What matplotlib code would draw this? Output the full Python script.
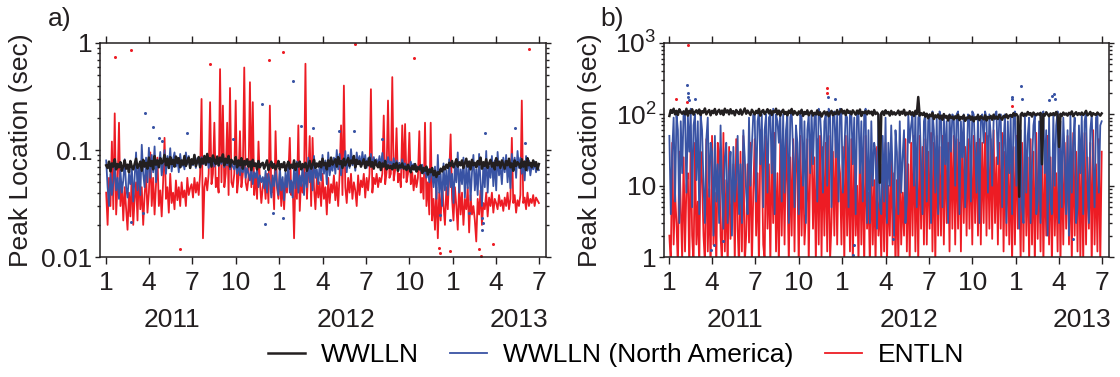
import numpy as np
import pandas as pd
import matplotlib
matplotlib.use('Agg')
import matplotlib.pyplot as plt
import matplotlib.dates as mdates
import matplotlib.transforms as mtransforms
from matplotlib.ticker import FixedLocator, FixedFormatter, LogLocator, NullFormatter, FuncFormatter

plt.rcParams['font.family'] = ['Liberation Sans', 'DejaVu Sans']
plt.rcParams['mathtext.fontset'] = 'custom'
plt.rcParams['mathtext.rm'] = 'Liberation Sans'
plt.rcParams['mathtext.it'] = 'Liberation Sans:italic'

BLACK = '#231f20'
BLUE = '#3953a4'
RED = '#ed1c24'
FS = 19

# daily series sampled every 3 days from 2011-01-01 (one row ~ one month)
start = '2011-01-01'

# ---- panel a) ----
wwlln_a = [
    0.072, 0.068, 0.078, 0.063, 0.075, 0.070, 0.082, 0.066, 0.074, 0.069,
    0.077, 0.064, 0.071, 0.080, 0.067, 0.073, 0.062, 0.079, 0.070, 0.066,
    0.074, 0.083, 0.068, 0.072, 0.078, 0.064, 0.081, 0.070, 0.076, 0.067,
    0.085, 0.071, 0.079, 0.066, 0.088, 0.073, 0.080, 0.069, 0.084, 0.075,
    0.078, 0.090, 0.072, 0.083, 0.068, 0.086, 0.074, 0.081, 0.070, 0.087,
    0.076, 0.084, 0.069, 0.080, 0.073, 0.088, 0.071, 0.079, 0.085, 0.068,
    0.082, 0.074, 0.090, 0.071, 0.078, 0.086, 0.069, 0.083, 0.075, 0.088,
    0.073, 0.092, 0.077, 0.084, 0.070, 0.089, 0.080, 0.074, 0.087, 0.072,
    0.085, 0.078, 0.091, 0.072, 0.083, 0.076, 0.088, 0.070, 0.081, 0.077,
    0.074, 0.086, 0.069, 0.080, 0.072, 0.084, 0.067, 0.079, 0.073, 0.082,
    0.070, 0.078, 0.065, 0.081, 0.071, 0.075, 0.066, 0.079, 0.069, 0.074,
    0.076, 0.067, 0.073, 0.080, 0.065, 0.072, 0.078, 0.068, 0.074, 0.066,
    0.071, 0.079, 0.066, 0.074, 0.069, 0.077, 0.064, 0.072, 0.078, 0.067,
    0.073, 0.068, 0.080, 0.065, 0.075, 0.070, 0.078, 0.066, 0.074, 0.069,
    0.076, 0.064, 0.071, 0.079, 0.067, 0.073, 0.081, 0.068, 0.075, 0.070,
    0.078, 0.069, 0.083, 0.072, 0.076, 0.066, 0.080, 0.071, 0.085, 0.073,
    0.077, 0.082, 0.070, 0.086, 0.074, 0.079, 0.068, 0.083, 0.072, 0.078,
    0.084, 0.071, 0.080, 0.075, 0.088, 0.069, 0.081, 0.074, 0.079, 0.070,
    0.076, 0.082, 0.068, 0.078, 0.072, 0.085, 0.070, 0.077, 0.067, 0.080,
    0.073, 0.069, 0.077, 0.065, 0.075, 0.070, 0.079, 0.066, 0.072, 0.068,
    0.071, 0.066, 0.074, 0.068, 0.076, 0.064, 0.072, 0.069, 0.075, 0.067,
    0.070, 0.065, 0.073, 0.068, 0.062, 0.071, 0.066, 0.074, 0.063, 0.069,
    0.066, 0.072, 0.061, 0.068, 0.064, 0.070, 0.059, 0.066, 0.062, 0.068,
    0.058, 0.064, 0.056, 0.062, 0.060, 0.067, 0.063, 0.070, 0.066, 0.073,
    0.068, 0.076, 0.071, 0.079, 0.069, 0.074, 0.082, 0.070, 0.077, 0.072,
    0.080, 0.068, 0.075, 0.083, 0.070, 0.078, 0.066, 0.081, 0.072, 0.076,
    0.069, 0.079, 0.073, 0.085, 0.067, 0.077, 0.071, 0.082, 0.068, 0.075,
    0.081, 0.070, 0.076, 0.066, 0.084, 0.072, 0.078, 0.068, 0.080, 0.073,
    0.067, 0.079, 0.072, 0.083, 0.069, 0.075, 0.064, 0.080, 0.071, 0.077,
    0.074, 0.068, 0.082, 0.070, 0.078, 0.065, 0.084, 0.072, 0.076, 0.069,
    0.080, 0.071, 0.077, 0.066, 0.074,
]

na_a = [
    0.080, 0.045, 0.030, 0.060, 0.038, 0.050, 0.072, 0.042, 0.055, 0.035,
    0.065, 0.040, 0.052, 0.082, 0.045, 0.036, 0.060, 0.048, 0.070, 0.033,
    0.055, 0.095, 0.042, 0.070, 0.038, 0.112, 0.060, 0.045, 0.085, 0.050,
    0.105, 0.055, 0.090, 0.062, 0.108, 0.050, 0.080, 0.072, 0.096, 0.058,
    0.075, 0.100, 0.060, 0.088, 0.068, 0.104, 0.063, 0.082, 0.095, 0.070,
    0.085, 0.062, 0.092, 0.070, 0.078, 0.066, 0.095, 0.074, 0.088, 0.068,
    0.080, 0.072, 0.090, 0.068, 0.084, 0.076, 0.070, 0.086, 0.074, 0.082,
    0.072, 0.085, 0.068, 0.080, 0.074, 0.088, 0.070, 0.078, 0.083, 0.071,
    0.080, 0.074, 0.088, 0.069, 0.078, 0.072, 0.084, 0.066, 0.076, 0.070,
    0.066, 0.080, 0.060, 0.074, 0.058, 0.070, 0.062, 0.076, 0.055, 0.068,
    0.060, 0.052, 0.070, 0.048, 0.062, 0.055, 0.066, 0.045, 0.058, 0.050,
    0.056, 0.044, 0.064, 0.040, 0.060, 0.050, 0.036, 0.058, 0.046, 0.065,
    0.048, 0.038, 0.070, 0.042, 0.056, 0.034, 0.062, 0.045, 0.075, 0.040,
    0.052, 0.036, 0.068, 0.044, 0.078, 0.040, 0.058, 0.046, 0.072, 0.038,
    0.062, 0.045, 0.085, 0.050, 0.070, 0.042, 0.088, 0.055, 0.066, 0.048,
    0.075, 0.052, 0.090, 0.060, 0.080, 0.048, 0.095, 0.058, 0.072, 0.064,
    0.085, 0.060, 0.100, 0.066, 0.092, 0.058, 0.080, 0.070, 0.098, 0.062,
    0.090, 0.068, 0.102, 0.072, 0.085, 0.064, 0.095, 0.075, 0.088, 0.070,
    0.096, 0.074, 0.090, 0.068, 0.084, 0.078, 0.092, 0.070, 0.086, 0.076,
    0.082, 0.072, 0.088, 0.070, 0.094, 0.075, 0.080, 0.069, 0.086, 0.074,
    0.078, 0.070, 0.084, 0.068, 0.080, 0.073, 0.076, 0.067, 0.082, 0.071,
    0.075, 0.068, 0.072, 0.066, 0.078, 0.069, 0.074, 0.065, 0.071, 0.068,
    0.070, 0.064, 0.073, 0.060, 0.068, 0.055, 0.066, 0.050, 0.062, 0.058,
    0.045, 0.070, 0.035, 0.090, 0.040, 0.060, 0.030, 0.075, 0.042, 0.065,
    0.038, 0.082, 0.045, 0.060, 0.032, 0.072, 0.050, 0.095, 0.040, 0.066,
    0.048, 0.085, 0.036, 0.070, 0.044, 0.078, 0.034, 0.062, 0.090, 0.042,
    0.066, 0.038, 0.092, 0.050, 0.030, 0.075, 0.045, 0.098, 0.040, 0.070,
    0.055, 0.088, 0.046, 0.080, 0.042, 0.096, 0.058, 0.070, 0.048, 0.085,
    0.062, 0.090, 0.050, 0.078, 0.044, 0.092, 0.066, 0.085, 0.055, 0.098,
    0.068, 0.085, 0.060, 0.076, 0.052, 0.088, 0.064, 0.080, 0.058, 0.072,
    0.066, 0.078, 0.062, 0.070, 0.065,
]

entln_a = [
    0.040, 0.020, 0.055, 0.030, 0.120, 0.028, 0.220, 0.025, 0.048, 0.180,
    0.030, 0.050, 0.022, 0.045, 0.028, 0.018, 0.040, 0.024, 0.060, 0.020,
    0.035, 0.050, 0.022, 0.070, 0.028, 0.045, 0.020, 0.038, 0.060, 0.026,
    0.040, 0.095, 0.030, 0.055, 0.025, 0.048, 0.085, 0.030, 0.042, 0.024,
    0.050, 0.130, 0.035, 0.045, 0.026, 0.060, 0.032, 0.040, 0.028, 0.052,
    0.034, 0.045, 0.030, 0.050, 0.036, 0.042, 0.030, 0.055, 0.038, 0.044,
    0.048, 0.036, 0.055, 0.040, 0.050, 0.038, 0.060, 0.300, 0.015, 0.045,
    0.055, 0.042, 0.060, 0.280, 0.048, 0.060, 0.180, 0.045, 0.055, 0.040,
    0.570, 0.050, 0.260, 0.045, 0.060, 0.180, 0.038, 0.380, 0.050, 0.045,
    0.060, 0.290, 0.040, 0.055, 0.150, 0.045, 0.060, 0.590, 0.050, 0.042,
    0.055, 0.430, 0.045, 0.280, 0.038, 0.060, 0.035, 0.120, 0.050, 0.032,
    0.045, 0.055, 0.035, 0.060, 0.032, 0.260, 0.040, 0.050, 0.028, 0.150,
    0.045, 0.035, 0.060, 0.030, 0.050, 0.028, 0.055, 0.040, 0.060, 0.130,
    0.038, 0.050, 0.015, 0.060, 0.035, 0.170, 0.027, 0.055, 0.040, 0.050,
    0.640, 0.035, 0.060, 0.135, 0.030, 0.130, 0.045, 0.028, 0.055, 0.036,
    0.050, 0.030, 0.060, 0.035, 0.045, 0.025, 0.055, 0.032, 0.048, 0.040,
    0.058, 0.034, 0.050, 0.030, 0.060, 0.170, 0.038, 0.400, 0.045, 0.032,
    0.055, 0.040, 0.060, 0.035, 0.050, 0.042, 0.030, 0.058, 0.038, 0.052,
    0.045, 0.060, 0.036, 0.055, 0.042, 0.060, 0.370, 0.040, 0.055, 0.048,
    0.060, 0.045, 0.055, 0.050, 0.060, 0.210, 0.048, 0.062, 0.290, 0.055,
    0.060, 0.480, 0.052, 0.065, 0.160, 0.050, 0.060, 0.045, 0.170, 0.055,
    0.175, 0.050, 0.060, 0.145, 0.048, 0.062, 0.042, 0.058, 0.045, 0.055,
    0.150, 0.040, 0.055, 0.035, 0.180, 0.030, 0.050, 0.025, 0.180, 0.022,
    0.035, 0.018, 0.045, 0.015, 0.040, 0.022, 0.050, 0.030, 0.020, 0.045,
    0.028, 0.060, 0.140, 0.035, 0.022, 0.045, 0.030, 0.018, 0.050, 0.025,
    0.040, 0.020, 0.035, 0.028, 0.045, 0.017, 0.038, 0.025, 0.030, 0.022,
    0.014, 0.035, 0.025, 0.042, 0.020, 0.032, 0.028, 0.040, 0.024, 0.036,
    0.030, 0.040, 0.026, 0.035, 0.032, 0.028, 0.038, 0.030, 0.034, 0.027,
    0.036, 0.030, 0.040, 0.028, 0.035, 0.130, 0.032, 0.038, 0.026, 0.034,
    0.030, 0.038, 0.290, 0.032, 0.036, 0.028, 0.040, 0.030, 0.035, 0.032,
    0.038, 0.030, 0.036, 0.034, 0.032,
]

# isolated days drawn as dots
entln_a_dots_d = ['2011-01-20', '2011-02-23', '2011-06-06', '2011-08-08', '2011-12-10',
                  '2012-01-09', '2012-06-08', '2012-10-10', '2013-06-10', '2012-12-02',
                  '2012-12-05', '2012-12-25', '2013-02-24', '2013-02-28', '2013-03-26']
entln_a_dots_v = [0.74, 0.86, 0.012, 0.64, 0.69, 0.82, 0.98, 0.72, 0.88, 0.0121,
                  0.011, 0.0115, 0.0118, 0.0102, 0.0132]
na_a_dots_d = ['2011-03-24', '2011-04-10', '2011-04-23', '2011-04-28', '2011-06-20',
               '2011-09-26', '2011-11-25', '2011-02-23', '2011-03-20', '2011-12-02',
               '2012-01-30', '2012-02-15', '2012-03-12', '2012-05-05', '2012-06-06',
               '2012-08-04', '2013-03-09', '2013-05-11', '2013-06-01', '2011-12-18',
               '2012-01-09', '2012-12-04', '2012-12-25', '2013-02-03', '2013-03-03',
               '2013-03-04', '2013-03-06']
na_a_dots_v = [0.22, 0.164, 0.13, 0.122, 0.144, 0.127, 0.27, 0.0212, 0.026, 0.0205,
               0.44, 0.168, 0.16, 0.15, 0.15, 0.127, 0.144, 0.16, 0.116, 0.026,
               0.023, 0.025, 0.022, 0.026, 0.023, 0.018, 0.021]

# ---- panel b) ----
wwlln_b = [
    95, 115, 105, 120, 100, 112, 98, 118, 108, 102,
    110, 100, 120, 96, 112, 104, 118, 99, 108, 114,
    103, 117, 98, 111, 106, 121, 100, 109, 115, 97,
    112, 104, 119, 99, 110, 116, 101, 113, 98, 120,
    106, 114, 100, 118, 103, 111, 97, 115, 107, 101,
    117, 99, 109, 121, 102, 113, 105, 98, 116, 108,
    100, 112, 104, 119, 96, 110, 115, 101, 108, 118,
    103, 114, 98, 111, 107, 120, 100, 113, 96, 109,
    116, 101, 108, 97, 113, 104, 119, 99, 111, 105,
    98, 110, 103, 116, 95, 108, 101, 114, 97, 106,
    112, 96, 105, 100, 114, 98, 107, 93, 103, 110,
    99, 108, 94, 104, 112, 97, 106, 101, 115, 100,
    109, 118, 103, 112, 98, 116, 105, 110, 100, 114,
    106, 99, 113, 102, 117, 95, 108, 104, 111, 100,
    112, 103, 109, 97, 115, 101, 106, 99, 11, 104,
    110, 98, 114, 103, 108, 96, 112, 100, 107, 99,
    104, 113, 98, 109, 102, 116, 97, 106, 100, 111,
    99, 107, 95, 112, 101, 175, 96, 104, 98, 106,
    93, 102, 88, 99, 94, 105, 86, 97, 91, 100,
    87, 96, 84, 101, 90, 95, 82, 98, 89, 93,
    85, 94, 88, 99, 83, 92, 87, 97, 81, 90,
    88, 96, 84, 93, 80, 91, 86, 98, 83, 94,
    90, 85, 97, 82, 92, 88, 95, 84, 99, 87,
    93, 86, 99, 90, 84, 95, 91, 100, 88, 96,
    98, 92, 104, 96, 101, 94, 7, 99, 105, 95,
    102, 96, 108, 99, 104, 93, 106, 100, 97, 103,
    99, 105, 20, 101, 96, 107, 100, 94, 103, 98,
    104, 97, 108, 100, 35, 102, 95, 106, 99, 103,
    96, 105, 100, 110, 94, 102, 107, 98, 104, 99,
    106, 98, 103, 112, 97, 101, 108, 95, 104, 100,
    98, 106, 101, 96, 103,
]

na_b = [
    50, 4, 30, 90, 6, 100, 60, 3, 80, 15,
    110, 100, 8, 95, 30, 120, 5, 70, 100, 12,
    80, 4, 100, 60, 10, 3, 45, 90, 7, 40,
    30, 2, 50, 6, 20, 3, 70, 8, 2.5, 25,
    40, 3, 15, 30, 2, 35, 6, 12, 50, 4,
    20, 3, 60, 25, 8, 4, 90, 10, 35, 100,
    100, 6, 80, 110, 20, 100, 5, 60, 100, 8,
    90, 100, 15, 120, 4, 100, 80, 40, 110, 6,
    100, 8, 60, 100, 3, 90, 110, 30, 5, 70,
    40, 4, 100, 90, 10, 80, 3, 60, 100, 15,
    110, 20, 90, 100, 6, 120, 100, 40, 8, 80,
    100, 10, 120, 100, 5, 90, 110, 25, 100, 6,
    120, 100, 8, 30, 100, 90, 5, 110, 100, 20,
    90, 4, 110, 100, 15, 80, 6, 100, 120, 3,
    60, 3, 80, 10, 40, 30, 2.5, 100, 5, 4,
    50, 6, 90, 3, 40, 10, 70, 15, 2, 60,
    30, 4, 80, 8, 25, 60, 3, 6, 100, 40,
    70, 100, 10, 110, 5, 90, 100, 20, 4, 80,
    100, 6, 80, 100, 3, 110, 60, 8, 90, 4,
    110, 90, 5, 100, 20, 80, 3, 100, 30, 100,
    90, 10, 100, 110, 4, 80, 25, 100, 5, 15,
    100, 90, 6, 110, 100, 30, 8, 100, 3, 80,
    100, 40, 110, 90, 8, 100, 50, 10, 80, 100,
    110, 20, 90, 100, 5, 40, 100, 3, 80, 15,
    90, 4, 100, 110, 10, 80, 2.5, 60, 5, 3,
    100, 8, 50, 90, 3, 20, 70, 100, 4, 6,
    80, 3, 100, 110, 15, 60, 2, 90, 6, 4,
    100, 10, 70, 110, 3, 80, 5, 90, 25, 4,
    60, 2, 100, 8, 40, 90, 3, 5, 70, 15,
    100, 4, 80, 110, 12, 3, 60, 100, 20, 5,
    90, 100, 8, 70, 80,
]

entln_b = [
    2, 0.8, 40, 1.5, 8, 3, 0.7, 30, 5, 0.9,
    25, 1.2, 10, 15, 0.6, 50, 2, 0.8, 40, 1.5,
    6, 0.7, 30, 12, 2, 0.8, 45, 1.2, 9, 0.6,
    50, 1.5, 8, 0.7, 40, 30, 2, 0.8, 55, 1.2,
    12, 0.6, 35, 1.8, 6, 20, 0.8, 45, 2.5, 0.7,
    30, 1.2, 50, 0.8, 2, 20, 1.6, 40, 0.7, 8,
    45, 2, 15, 0.7, 60, 25, 1.5, 0.9, 50, 2.5,
    20, 0.8, 40, 3, 55, 1.2, 15, 0.7, 45, 2,
    35, 1.5, 50, 10, 0.8, 25, 2, 45, 1.2, 55,
    15, 0.7, 50, 2, 30, 1.5, 4, 45, 0.8, 20,
    40, 2.5, 25, 0.8, 45, 1.5, 50, 1, 35, 2,
    40, 1.2, 50, 0.9, 3, 30, 2, 45, 1.5, 25,
    15, 1.5, 35, 0.8, 50, 2, 20, 1.2, 45, 0.7,
    30, 2, 10, 0.8, 40, 1.5, 25, 0.7, 50, 2.5,
    8, 0.7, 25, 1.5, 12, 0.8, 35, 2, 6, 0.9,
    20, 1.2, 40, 0.8, 10, 2, 30, 1.5, 15, 0.7,
    12, 0.8, 30, 1.5, 8, 2, 45, 1.2, 20, 0.8,
    40, 2, 50, 1.2, 25, 0.8, 50, 2.5, 35, 1.5,
    45, 1.5, 30, 2.5, 55, 1.2, 40, 0.8, 50, 2,
    35, 2, 50, 1.5, 45, 3, 40, 1.2, 55, 2.5,
    50, 1.5, 45, 2.5, 40, 1.2, 55, 3, 35, 2,
    45, 2.5, 35, 1.5, 50, 3, 40, 2, 45, 1.5,
    40, 3, 55, 2, 50, 2.5, 45, 1.8, 60, 3,
    25, 1.5, 40, 2.5, 55, 1.2, 30, 2, 45, 1.5,
    20, 0.8, 35, 1.5, 50, 2.5, 15, 0.9, 40, 1.2,
    50, 2, 25, 0.8, 45, 1.5, 30, 0.7, 55, 1.8,
    30, 1.2, 40, 0.8, 20, 2, 50, 1.5, 25, 0.7,
    35, 2, 15, 1.2, 45, 0.8, 25, 1.5, 40, 2.5,
    50, 1.5, 20, 0.8, 55, 2, 30, 1.2, 45, 0.9,
    30, 0.8, 55, 1.5, 25, 2.5, 40, 0.7, 60, 1.5,
    20, 1.2, 45, 0.8, 30,
]

entln_b_dots_d = ['2011-02-09', '2011-01-14', '2011-02-07', '2011-11-29', '2011-11-30',
                  '2012-12-24']
entln_b_dots_v = [950, 164, 150, 235, 200, 130]
na_b_dots_d = ['2011-02-07', '2011-02-10', '2011-02-09', '2011-02-11', '2011-02-24',
               '2011-12-01', '2011-12-16', '2013-01-11', '2012-12-23', '2012-12-24',
               '2013-01-13', '2013-03-19', '2013-03-23', '2013-03-24', '2013-03-12',
               '2012-01-26', '2012-01-24', '2012-04-17', '2013-05-01', '2011-03-30',
               '2011-04-06', '2011-04-24']
na_b_dots_v = [258, 200, 176, 158, 164, 176, 164, 250, 176, 164,
               164, 180, 193, 164, 158, 1.5, 1.07, 1.8, 1.8, 1.25,
               1.5, 1.7]

year_labels = ['2011', '2012', '2013']
year_pos = ['2011-05-20', '2012-05-20', '2013-05-20']
legend_names = ['WWLLN', 'WWLLN (North America)', 'ENTLN']


def dates(vals):
    return pd.date_range(start, periods=len(vals), freq='3D')


fig = plt.figure(figsize=(11.2, 3.77), dpi=100)
ax1 = fig.add_axes([0.0893, 0.318, 0.3982, 0.568])
ax2 = fig.add_axes([0.593, 0.318, 0.397, 0.568])

lw = 1.3
ax1.plot(dates(entln_a), entln_a, color=RED, lw=lw)
ax1.plot(dates(na_a), na_a, color=BLUE, lw=lw)
ax1.plot(dates(wwlln_a), wwlln_a, color=BLACK, lw=1.8)
ax1.plot(pd.to_datetime(entln_a_dots_d), entln_a_dots_v, ls='none', marker='o', ms=2.2, color=RED, mew=0)
ax1.plot(pd.to_datetime(na_a_dots_d), na_a_dots_v, ls='none', marker='o', ms=2.2, color=BLUE, mew=0)

l_red, = ax2.plot(dates(entln_b), entln_b, color=RED, lw=lw)
l_blue, = ax2.plot(dates(na_b), na_b, color=BLUE, lw=lw)
l_black, = ax2.plot(dates(wwlln_b), wwlln_b, color=BLACK, lw=1.8)
ax2.plot(pd.to_datetime(entln_b_dots_d), entln_b_dots_v, ls='none', marker='o', ms=2.2, color=RED, mew=0)
ax2.plot(pd.to_datetime(na_b_dots_d), na_b_dots_v, ls='none', marker='o', ms=2.2, color=BLUE, mew=0)

ax1.set_yscale('log')
ax2.set_yscale('log')
ax1.set_ylim(0.01, 1)
ax2.set_ylim(1, 1000)
ax1.set_xlim(pd.Timestamp('2010-12-19'), pd.Timestamp('2013-07-16'))
ax2.set_xlim(pd.Timestamp('2010-12-21'), pd.Timestamp('2013-07-16'))

ax1.yaxis.set_major_locator(FixedLocator([0.01, 0.1, 1]))
ax1.yaxis.set_major_formatter(FixedFormatter(['0.01', '0.1', '1']))
ax2.yaxis.set_major_locator(FixedLocator([1, 10, 100, 1000]))
ax2.yaxis.set_major_formatter(FixedFormatter(['1', '10', r'$\mathregular{10^2}$', r'$\mathregular{10^3}$']))

month_fmt = FuncFormatter(lambda x, pos: str(mdates.num2date(x).month))
for ax in (ax1, ax2):
    ax.yaxis.set_minor_locator(LogLocator(base=10, subs=np.arange(2, 10)))
    ax.yaxis.set_minor_formatter(NullFormatter())
    ax.xaxis.set_major_locator(mdates.MonthLocator(bymonth=[1, 4, 7, 10]))
    ax.xaxis.set_major_formatter(month_fmt)
    ax.tick_params(which='both', direction='out', top=True, right=True, width=1,
                   labelsize=FS, colors='#231f20')
    ax.tick_params(axis='x', which='major', length=5, pad=5)
    ax.tick_params(axis='y', which='major', length=3.5, pad=2)
    ax.tick_params(axis='y', which='minor', length=2.2)
    for s in ax.spines.values():
        s.set_linewidth(1.1)
        s.set_color('#231f20')
    trans = mtransforms.blended_transform_factory(ax.transData, ax.transAxes)
    for lab, pos in zip(year_labels, year_pos):
        ax.text(pd.Timestamp(pos), -0.294, lab, transform=trans, ha='center', va='center',
                fontsize=FS, color='#231f20')

ax1.set_ylabel('Peak Location (sec)', fontsize=FS, labelpad=6, color='#231f20')
ax2.set_ylabel('Peak Location (sec)', fontsize=FS, labelpad=10, color='#231f20')

fig.text(48 / 1120, 1 - 19 / 377, 'a)', fontsize=FS, va='center', ha='left', color='#231f20')
fig.text(600 / 1120, 1 - 19 / 377, 'b)', fontsize=FS, va='center', ha='left', color='#231f20')

fig.legend([l_black, l_blue, l_red], legend_names, loc='center', bbox_to_anchor=(0.55, 0.058),
           ncol=3, frameon=False, fontsize=FS, handlelength=1.4, handletextpad=0.6,
           columnspacing=1.2, borderaxespad=0)

fig.savefig('out.png', dpi=100)
